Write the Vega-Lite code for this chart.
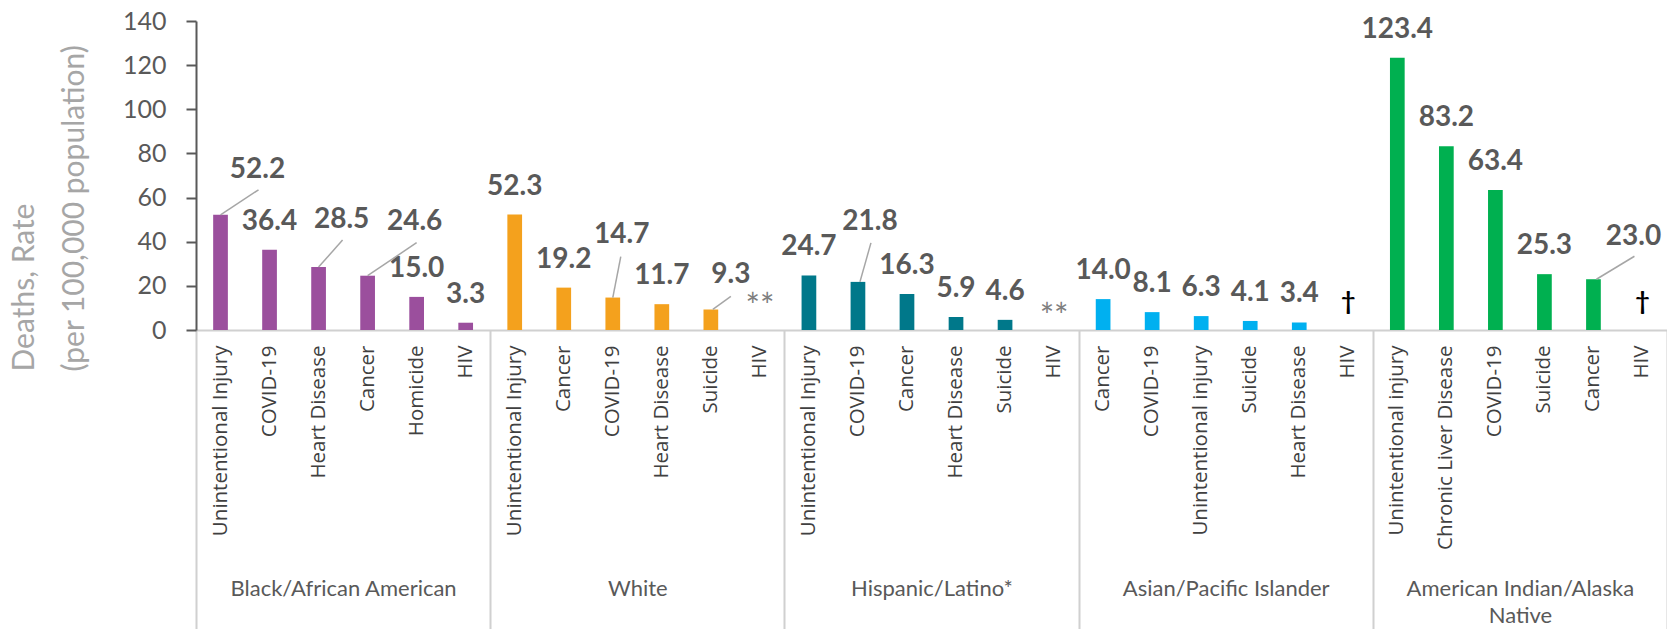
{
  "$schema": "https://vega.github.io/schema/vega-lite/v6.json",
  "width": 1471,
  "height": 309,
  "autosize": {"type": "none"},
  "padding": {"left": 196, "top": 21, "right": 0, "bottom": 299},
  "background": "white",
  "config": {"view": {"stroke": null}, "mark": {"invalid": "show"}},
  "data": {
    "values": [
      {"id": "Unintentional Injury|B", "group": "Black/African American", "cause": "Unintentional Injury", "rate": 52.2, "note": null},
      {"id": "COVID-19|B", "group": "Black/African American", "cause": "COVID-19", "rate": 36.4, "note": null},
      {"id": "Heart Disease|B", "group": "Black/African American", "cause": "Heart Disease", "rate": 28.5, "note": null},
      {"id": "Cancer|B", "group": "Black/African American", "cause": "Cancer", "rate": 24.6, "note": null},
      {"id": "Homicide|B", "group": "Black/African American", "cause": "Homicide", "rate": 15.0, "note": null},
      {"id": "HIV|B", "group": "Black/African American", "cause": "HIV", "rate": 3.3, "note": null},
      {"id": "Unintentional Injury|W", "group": "White", "cause": "Unintentional Injury", "rate": 52.3, "note": null},
      {"id": "Cancer|W", "group": "White", "cause": "Cancer", "rate": 19.2, "note": null},
      {"id": "COVID-19|W", "group": "White", "cause": "COVID-19", "rate": 14.7, "note": null},
      {"id": "Heart Disease|W", "group": "White", "cause": "Heart Disease", "rate": 11.7, "note": null},
      {"id": "Suicide|W", "group": "White", "cause": "Suicide", "rate": 9.3, "note": null},
      {"id": "HIV|W", "group": "White", "cause": "HIV", "rate": null, "note": "**"},
      {"id": "Unintentional Injury|H", "group": "Hispanic/Latino*", "cause": "Unintentional Injury", "rate": 24.7, "note": null},
      {"id": "COVID-19|H", "group": "Hispanic/Latino*", "cause": "COVID-19", "rate": 21.8, "note": null},
      {"id": "Cancer|H", "group": "Hispanic/Latino*", "cause": "Cancer", "rate": 16.3, "note": null},
      {"id": "Heart Disease|H", "group": "Hispanic/Latino*", "cause": "Heart Disease", "rate": 5.9, "note": null},
      {"id": "Suicide|H", "group": "Hispanic/Latino*", "cause": "Suicide", "rate": 4.6, "note": null},
      {"id": "HIV|H", "group": "Hispanic/Latino*", "cause": "HIV", "rate": null, "note": "**"},
      {"id": "Cancer|A", "group": "Asian/Pacific Islander", "cause": "Cancer", "rate": 14.0, "note": null},
      {"id": "COVID-19|A", "group": "Asian/Pacific Islander", "cause": "COVID-19", "rate": 8.1, "note": null},
      {"id": "Unintentional injury|A", "group": "Asian/Pacific Islander", "cause": "Unintentional injury", "rate": 6.3, "note": null},
      {"id": "Suicide|A", "group": "Asian/Pacific Islander", "cause": "Suicide", "rate": 4.1, "note": null},
      {"id": "Heart Disease|A", "group": "Asian/Pacific Islander", "cause": "Heart Disease", "rate": 3.4, "note": null},
      {"id": "HIV|A", "group": "Asian/Pacific Islander", "cause": "HIV", "rate": null, "note": "†"},
      {"id": "Unintentional injury|N", "group": "American Indian/Alaska Native", "cause": "Unintentional injury", "rate": 123.4, "note": null},
      {"id": "Chronic Liver Disease|N", "group": "American Indian/Alaska Native", "cause": "Chronic Liver Disease", "rate": 83.2, "note": null},
      {"id": "COVID-19|N", "group": "American Indian/Alaska Native", "cause": "COVID-19", "rate": 63.4, "note": null},
      {"id": "Suicide|N", "group": "American Indian/Alaska Native", "cause": "Suicide", "rate": 25.3, "note": null},
      {"id": "Cancer|N", "group": "American Indian/Alaska Native", "cause": "Cancer", "rate": 23.0, "note": null},
      {"id": "HIV|N", "group": "American Indian/Alaska Native", "cause": "HIV", "rate": null, "note": "†"}
    ]
  },
  "layer": [
    {
      "encoding": {
        "x": {
          "field": "id", "type": "nominal", "sort": null,
          "scale": {"paddingInner": 0, "paddingOuter": 0},
          "axis": {
            "title": null, "orient": "bottom",
            "labelExpr": "split(datum.value, '|')[0]",
            "labelAngle": -90, "labelFont": "Open Sans", "labelFontSize": 20.5,
            "labelColor": "#404040", "labelPadding": 15, "ticks": false, "tickSize": 0,
            "domainColor": "#D0D0D0", "domainWidth": 2, "labelLimit": 400, "grid": false
          }
        },
        "y": {
          "field": "rate", "type": "quantitative",
          "scale": {"domain": [0, 140]},
          "axis": {
            "title": ["Deaths, Rate", "(per 100,000 population)"],
            "values": [0, 20, 40, 60, 80, 100, 120, 140],
            "grid": false,
            "domainColor": "#595959", "domainWidth": 2,
            "tickColor": "#595959", "tickWidth": 2, "tickSize": 10,
            "labelFont": "Lato", "labelFontSize": 25, "labelColor": "#595959", "labelPadding": 20,
            "titleFont": "Lato", "titleFontSize": 30, "titleFontWeight": "normal", "titleColor": "#A6A6A6",
            "titleAngle": 270, "titleAlign": "left", "titleBaseline": "alphabetic",
            "titleX": -163, "titleY": 350, "titleLineHeight": 50
          }
        }
      },
      "layer": [
        {
          "mark": {"type": "bar", "width": {"band": 0.3}, "invalid": "show"},
          "encoding": {
            "color": {
              "field": "group", "type": "nominal", "legend": null,
              "scale": {
                "domain": ["Black/African American", "White", "Hispanic/Latino*", "Asian/Pacific Islander", "American Indian/Alaska Native"],
                "range": ["#9B4F9D", "#F4A11D", "#00788A", "#00B0F0", "#00B050"]
              }
            }
          }
        },
        {
          "transform": [{"filter": "isValid(datum.rate) && indexof(['Unintentional Injury|B','Heart Disease|B','Cancer|B','COVID-19|W','Suicide|W','COVID-19|H','Cancer|N'], datum.id) < 0"}],
          "mark": {"type": "text", "font": "Lato", "fontSize": 28, "fontWeight": "bold", "color": "#595959", "baseline": "alphabetic", "dy": -20},
          "encoding": {"text": {"field": "rate", "type": "quantitative", "format": ".1f"}}
        },
        {
          "transform": [{"filter": "datum.id == 'Unintentional Injury|B'"}],
          "mark": {"type": "text", "font": "Lato", "fontSize": 28, "fontWeight": "bold", "color": "#595959", "baseline": "alphabetic", "dx": 37, "dy": -37},
          "encoding": {"text": {"field": "rate", "type": "quantitative", "format": ".1f"}}
        },
        {
          "transform": [{"filter": "datum.id == 'Unintentional Injury|B'"}],
          "mark": {"type": "rule", "color": "#A6A6A6", "strokeWidth": 1.5, "x2Offset": 38, "y2Offset": -25},
          "encoding": {"x2": {"field": "id", "bandPosition": 0.5}, "y2": {"field": "rate"}}
        },
        {
          "transform": [{"filter": "datum.id == 'Heart Disease|B'"}],
          "mark": {"type": "text", "font": "Lato", "fontSize": 28, "fontWeight": "bold", "color": "#595959", "baseline": "alphabetic", "dx": 23, "dy": -39},
          "encoding": {"text": {"field": "rate", "type": "quantitative", "format": ".1f"}}
        },
        {
          "transform": [{"filter": "datum.id == 'Heart Disease|B'"}],
          "mark": {"type": "rule", "color": "#A6A6A6", "strokeWidth": 1.5, "x2Offset": 24, "y2Offset": -27},
          "encoding": {"x2": {"field": "id", "bandPosition": 0.5}, "y2": {"field": "rate"}}
        },
        {
          "transform": [{"filter": "datum.id == 'Cancer|B'"}],
          "mark": {"type": "text", "font": "Lato", "fontSize": 28, "fontWeight": "bold", "color": "#595959", "baseline": "alphabetic", "dx": 47, "dy": -46},
          "encoding": {"text": {"field": "rate", "type": "quantitative", "format": ".1f"}}
        },
        {
          "transform": [{"filter": "datum.id == 'Cancer|B'"}],
          "mark": {"type": "rule", "color": "#A6A6A6", "strokeWidth": 1.5, "x2Offset": 49, "y2Offset": -33},
          "encoding": {"x2": {"field": "id", "bandPosition": 0.5}, "y2": {"field": "rate"}}
        },
        {
          "transform": [{"filter": "datum.id == 'COVID-19|W'"}],
          "mark": {"type": "text", "font": "Lato", "fontSize": 28, "fontWeight": "bold", "color": "#595959", "baseline": "alphabetic", "dx": 9, "dy": -55},
          "encoding": {"text": {"field": "rate", "type": "quantitative", "format": ".1f"}}
        },
        {
          "transform": [{"filter": "datum.id == 'COVID-19|W'"}],
          "mark": {"type": "rule", "color": "#A6A6A6", "strokeWidth": 1.5, "x2Offset": 8, "y2Offset": -41},
          "encoding": {"x2": {"field": "id", "bandPosition": 0.5}, "y2": {"field": "rate"}}
        },
        {
          "transform": [{"filter": "datum.id == 'Suicide|W'"}],
          "mark": {"type": "text", "font": "Lato", "fontSize": 28, "fontWeight": "bold", "color": "#595959", "baseline": "alphabetic", "dx": 20, "dy": -26},
          "encoding": {"text": {"field": "rate", "type": "quantitative", "format": ".1f"}}
        },
        {
          "transform": [{"filter": "datum.id == 'Suicide|W'"}],
          "mark": {"type": "rule", "color": "#A6A6A6", "strokeWidth": 1.5, "xOffset": 2, "x2Offset": 20, "y2Offset": -13},
          "encoding": {"x2": {"field": "id", "bandPosition": 0.5}, "y2": {"field": "rate"}}
        },
        {
          "transform": [{"filter": "datum.id == 'COVID-19|H'"}],
          "mark": {"type": "text", "font": "Lato", "fontSize": 28, "fontWeight": "bold", "color": "#595959", "baseline": "alphabetic", "dx": 12, "dy": -52},
          "encoding": {"text": {"field": "rate", "type": "quantitative", "format": ".1f"}}
        },
        {
          "transform": [{"filter": "datum.id == 'COVID-19|H'"}],
          "mark": {"type": "rule", "color": "#A6A6A6", "strokeWidth": 1.5, "xOffset": 2, "x2Offset": 13, "y2Offset": -39},
          "encoding": {"x2": {"field": "id", "bandPosition": 0.5}, "y2": {"field": "rate"}}
        },
        {
          "transform": [{"filter": "datum.id == 'Cancer|N'"}],
          "mark": {"type": "text", "font": "Lato", "fontSize": 28, "fontWeight": "bold", "color": "#595959", "baseline": "alphabetic", "dx": 40, "dy": -34},
          "encoding": {"text": {"field": "rate", "type": "quantitative", "format": ".1f"}}
        },
        {
          "transform": [{"filter": "datum.id == 'Cancer|N'"}],
          "mark": {"type": "rule", "color": "#A6A6A6", "strokeWidth": 1.5, "xOffset": 3, "x2Offset": 41, "y2Offset": -23},
          "encoding": {"x2": {"field": "id", "bandPosition": 0.5}, "y2": {"field": "rate"}}
        },
        {
          "transform": [{"filter": "datum.id == 'HIV|W'"}],
          "mark": {"type": "text", "font": "Lato", "fontSize": 34, "color": "#7F7F7F", "baseline": "alphabetic", "dy": -12},
          "encoding": {"y": {"datum": 0}, "text": {"field": "note"}}
        },
        {
          "transform": [{"filter": "datum.id == 'HIV|H'"}],
          "mark": {"type": "text", "font": "Lato", "fontSize": 34, "color": "#7F7F7F", "baseline": "alphabetic", "dy": -2},
          "encoding": {"y": {"datum": 0}, "text": {"field": "note"}}
        },
        {
          "transform": [{"filter": "datum.note == '†'"}],
          "mark": {"type": "text", "font": "Lato", "fontSize": 25, "fontWeight": "bold", "color": "#000000", "baseline": "alphabetic", "dy": -20},
          "encoding": {"y": {"datum": 0}, "text": {"field": "note"}}
        }
      ]
    },
    {
      "mark": {"type": "point", "opacity": 0},
      "encoding": {
        "x": {
          "field": "group", "type": "nominal", "sort": null,
          "scale": {"paddingInner": 0, "paddingOuter": 0},
          "axis": {
            "orient": "bottom", "title": null, "domain": false, "grid": false,
            "ticks": true, "tickBand": "extent", "tickSize": 299, "tickColor": "#D0D0D0", "tickWidth": 2,
            "labelAngle": 0, "labelAlign": "center",
            "labelFont": "Lato", "labelFontSize": 22, "labelColor": "#595959",
            "labelPadding": -34, "labelBaseline": "alphabetic", "labelLineHeight": 27, "labelLimit": 400,
            "labelExpr": "datum.value == 'American Indian/Alaska Native' ? ['American Indian/Alaska', 'Native'] : datum.value"
          }
        }
      }
    }
  ],
  "resolve": {"scale": {"x": "independent"}, "axis": {"x": "independent"}}
}
